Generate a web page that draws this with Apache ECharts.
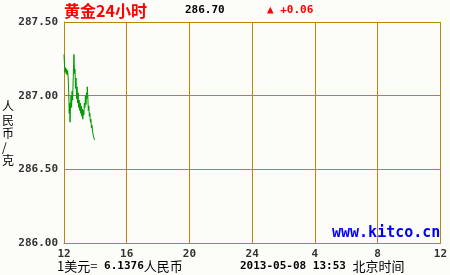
<!DOCTYPE html>
<html><head><meta charset="utf-8">
<script src="https://cdn.jsdelivr.net/npm/echarts@6/dist/echarts.min.js"></script>
<style>html,body{margin:0;padding:0;background:#fcfdf9}#c{width:450px;height:275px}</style>
</head><body><div id="c"></div>
<script>
// minutes since 12:00
var minutes = [0,2,4,6,8,10,12,14,16,18,20,22,23,25,27,29,31,33,35,37,38,40,42,44,46,48,50,52,54,56,58,60,62,64,66,68,70,72,74,76,78,80,82,84,86,88,89,91,93,95,97,99,101,103,105,107,109,111,113,115,117];
var prices = [287.28,287.20,287.16,287.19,287.15,287.18,287.14,287.17,287.12,287.02,286.88,286.95,286.82,286.93,287.00,286.92,287.03,286.97,287.10,287.22,287.28,287.15,287.18,287.05,287.12,286.98,287.06,286.95,287.02,286.92,286.97,286.90,286.95,286.88,286.93,286.86,286.91,286.84,286.90,286.87,286.95,286.92,287.00,286.94,287.02,286.98,287.06,287.00,286.90,286.93,286.86,286.88,286.82,286.84,286.78,286.80,286.76,286.77,286.72,286.73,286.70];
var xTickLabels = ['12','16','20','24','4','8','12'];
var yTicks = [286.00, 286.50, 287.00, 287.50];

var data = minutes.map(function(m,i){return [m, prices[i]];});
var gold = '#b8860b';
var chart = echarts.init(document.getElementById('c'), null, {renderer:'canvas'});
chart.setOption({
  backgroundColor:'#fcfdf9',
  animation:false,
  grid:{left:64,right:8,top:22,bottom:32},
  xAxis:{type:'value',min:0,max:1440,interval:240,
    axisLine:{show:true,lineStyle:{color:gold,width:1}},
    axisTick:{show:false},
    splitLine:{show:true,lineStyle:{color:gold,width:1}},
    axisLabel:{color:'#333',fontFamily:'DejaVu Sans Mono',fontWeight:'bold',fontSize:11,margin:6,
      formatter:function(v){return xTickLabels[Math.round(v/240)];}}
  },
  yAxis:{type:'value',min:yTicks[0],max:yTicks[yTicks.length-1],interval:0.5,
    axisLine:{show:true,lineStyle:{color:gold,width:1}},
    axisTick:{show:false},
    splitLine:{show:true,lineStyle:{color:gold,width:1}},
    axisLabel:{color:'#333',fontFamily:'DejaVu Sans Mono',fontWeight:'bold',fontSize:11,margin:6,
      formatter:function(v){return v.toFixed(2);}}
  },
  series:[{type:'line',data:data,showSymbol:false,lineStyle:{color:'#009900',width:1},z:5}],
  graphic:[
    {type:'text',left:64,top:3,style:{text:'黄金24小时',fill:'#ff0000',font:'bold 16px "Noto Sans CJK SC"'}},
    {type:'text',left:185,top:5,style:{text:'286.70',fill:'#000',font:'bold 11px "DejaVu Sans Mono"'}},
    {type:'text',left:267,top:5,style:{text:'▲ +0.06',fill:'#ff0000',font:'bold 11px "DejaVu Sans Mono"'}},
    {type:'text',left:332,top:226,z:10,style:{text:'www.kitco.cn',fill:'#0000ff',font:'bold 15px "DejaVu Sans Mono"'}},
    {type:'text',left:2,top:100,style:{text:'人\n民\n币\n/\n克',fill:'#000',font:'12px "Noto Sans CJK SC"',lineHeight:13.5}},
    {type:'text',left:57,top:260,style:{rich:{a:{fill:'#000',font:'13px "Noto Sans CJK SC"'},b:{fill:'#000',font:'bold 11px "DejaVu Sans Mono"'}},text:'{a|1美元=}{b| 6.1376}{a|人民币}'}},
    {type:'text',left:240,top:260,style:{rich:{a:{fill:'#000',font:'13px "Noto Sans CJK SC"'},b:{fill:'#000',font:'bold 11px "DejaVu Sans Mono"'}},text:'{b|2013-05-08 13:53 }{a|北京时间}'}}
  ]
});
</script></body></html>
